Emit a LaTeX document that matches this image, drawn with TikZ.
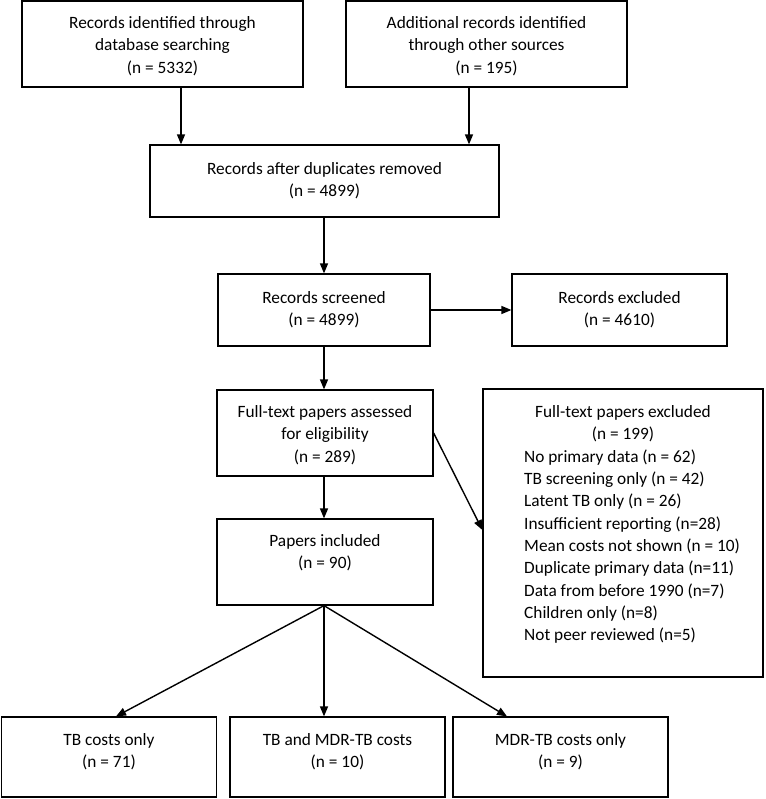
\documentclass[tikz,border=0pt]{standalone}
\usepackage{fontspec}
\setmainfont{Carlito}
\usetikzlibrary{arrows.meta}
\newcommand{\fsz}{\fontsize{17.3}{22.3}\selectfont}
\tikzset{
  box/.style={draw, line width=1.2pt, inner sep=0pt, fill=none},
  txt/.style={align=center, font=\fsz, inner sep=0pt},
  arr/.style={-{Triangle[length=10pt,width=8pt]}, line width=1.4pt},
  ln/.style={line width=1.4pt}
}
\begin{document}
\begin{tikzpicture}[x=1pt,y=-1pt]
\useasboundingbox (0,0) rectangle (765,799);
% boxes
\node[box, minimum width=281pt, minimum height=86pt] (b1) at (162.5,44) {};
\node[box, minimum width=281pt, minimum height=86pt] (b2) at (486.5,44) {};
\node[box, minimum width=349pt, minimum height=72pt] (b3) at (324.5,181) {};
\node[box, minimum width=212pt, minimum height=72pt] (b4) at (324,310) {};
\node[box, minimum width=215pt, minimum height=72pt] (b5) at (619.5,310) {};
\node[box, minimum width=216pt, minimum height=86pt] (b6) at (325,433) {};
\node[box, minimum width=280pt, minimum height=288pt] (b7) at (623,533) {};
\node[box, minimum width=216pt, minimum height=86pt] (b8) at (325,562) {};
\node[box, minimum width=215pt, minimum height=80pt] (b9) at (109,757) {};
\node[box, minimum width=215pt, minimum height=80pt] (b10) at (337.5,757) {};
\node[box, minimum width=215pt, minimum height=80pt] (b11) at (560.5,757) {};
% texts
\node[txt] (t1) at (162.5,46) {Records identified through\\database searching\\(n = 5332)};
\node[txt] (t2) at (486.5,46) {Additional records identified\\through other sources\\(n = 195)};
\node[txt] (t3) at (324.5,181) {Records after duplicates removed\\(n = 4899)};
\node[txt] (t4) at (324,310) {Records screened\\(n = 4899)};
\node[txt] (t5) at (619.5,310) {Records excluded\\(n = 4610)};
\node[txt] (t6) at (325,435) {Full-text papers assessed\\for eligibility\\(n = 289)};
\node[txt] (t7) at (623,424) {Full-text papers excluded\\(n = 199)};
\node[txt, align=left, anchor=west] (t7b) at (524,546.5) {No primary data (n = 62)\\TB screening only (n = 42)\\Latent TB only (n = 26)\\Insufficient reporting (n=28)\\Mean costs not shown (n = 10)\\Duplicate primary data (n=11)\\Data from before 1990 (n=7)\\Children only (n=8)\\Not peer reviewed (n=5)};
\node[txt] (t8) at (325,553) {Papers included\\(n = 90)};
\node[txt] (t9) at (109,752) {TB costs only\\(n = 71)};
\node[txt] (t10) at (337.5,752) {TB and MDR-TB costs\\(n = 10)};
\node[txt] (t11) at (560.5,752) {MDR-TB costs only\\(n = 9)};
% helper coordinates
\coordinate (x1) at (181,0);
\coordinate (x2) at (469,0);
\coordinate (x3) at (324,0);
\coordinate (x9) at (116,0);
\coordinate (x11) at (507,0);
% connectors
\draw[arr] (b1.south -| x1) -- (b3.north -| x1);
\draw[arr] (b2.south -| x2) -- (b3.north -| x2);
\draw[arr] (b3.south -| x3) -- (b4.north -| x3);
\draw[arr] (b4.east) -- (b5.west);
\draw[arr] (b4.south -| x3) -- (b6.north -| x3);
\draw[arr] (b6.east) -- ([yshift=3pt]b7.west);
\draw[arr] (b6.south -| x3) -- (b8.north -| x3);
\draw[arr] (b8.south -| x3) -- (b9.north -| x9);
\draw[arr] (b8.south -| x3) -- (b10.north -| x3);
\draw[arr] (b8.south -| x3) -- (b11.north -| x11);
\end{tikzpicture}
\end{document}
